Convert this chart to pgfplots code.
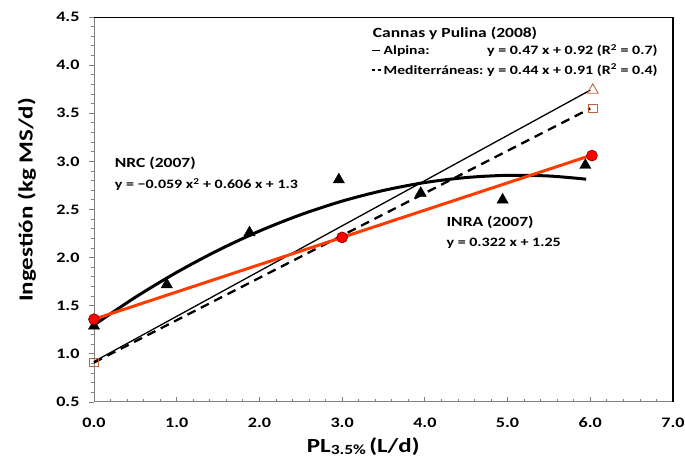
\documentclass[border=0pt]{standalone}
\usepackage{fontspec}
\setmainfont{Carlito}[FakeStretch=1.25]
\usepackage{pgfplots}
\pgfplotsset{compat=1.18}
\definecolor{inra}{RGB}{255,60,0}
\definecolor{openm}{RGB}{192,100,60}
\definecolor{axgray}{RGB}{128,128,128}
\begin{document}
\begin{tikzpicture}
\begin{axis}[
  scale only axis, width=579bp, height=385bp,
  xmin=0, xmax=7, ymin=0.5, ymax=4.5,
  xtick={0,1,2,3,4,5,6,7}, ytick={0.5,1,1.5,2,2.5,3,3.5,4,4.5},
  minor x tick num=4, minor y tick num=4,
  xtick pos=left, ytick pos=left,
  tick align=inside,
  major tick length=5bp, minor tick length=3bp,
  every major y tick/.append style={xshift=-5bp},
  every minor y tick/.append style={xshift=-3bp},
  tick style={color=axgray, line width=0.8bp},
  axis line style={draw=none},
  ticklabel style={font=\bfseries\fontsize{14.5bp}{16bp}\selectfont},
  xticklabel style={yshift=-12bp},
  yticklabel style={xshift=-11bp},
  /pgf/number format/fixed, /pgf/number format/fixed zerofill,
  /pgf/number format/precision=1, /pgf/number format/assume math mode=true,
  clip=false,
]
\coordinate (sw) at (rel axis cs:0,0);
\coordinate (ne) at (rel axis cs:1,1);
\coordinate (lm) at (rel axis cs:0,0.525);
\coordinate (bm) at (rel axis cs:0.465,0);
% frame
\draw[axgray, line width=1bp] (rel axis cs:0,0) -- (rel axis cs:0,1);
\draw[axgray, line width=1bp] (rel axis cs:0,0) -- (rel axis cs:1,0);
\draw[black, line width=0.8bp] (rel axis cs:0,1) -- (rel axis cs:1,1);
\draw[black, line width=1.5bp] (rel axis cs:1,0) -- (rel axis cs:1,1);

% Alpina (Cannas y Pulina)
\addplot[black, line width=1.3bp, mark=none] coordinates {(0,0.92) (6,3.74)};
% Mediterraneas
\addplot[black, line width=2.3bp, dash pattern=on 9bp off 6bp, mark=none] coordinates {(0,0.91) (6,3.55)};
% NRC curve
\addplot[black, line width=3bp, smooth, mark=none] coordinates {
 (0,1.300) (0.5,1.588) (1,1.847) (1.5,2.076) (2,2.276) (2.5,2.446) (3,2.587)
 (3.5,2.698) (4,2.780) (4.5,2.832) (5,2.855) (5.5,2.848) (5.95,2.815)};
% INRA line
\addplot[inra, line width=3bp, mark=none] coordinates {(0,1.36) (3,2.21) (6,3.06)};
% NRC data triangles
\addplot[only marks, mark=triangle*, mark size=6.5bp, black] coordinates {
 (0,1.29) (0.88,1.72) (1.88,2.26) (2.96,2.81) (3.95,2.67) (4.94,2.60) (5.94,2.96)};
% INRA circles
\addplot[only marks, mark=*, mark size=5.5bp, draw=red!50!black, fill=red, line width=0.6bp] coordinates {
 (0,1.36) (3,2.21) (6.02,3.06)};
% open markers
\addplot[only marks, mark=square, mark size=4.3bp, openm, mark options={fill=white, line width=0.9bp}] coordinates {(0,0.91) (6.03,3.55)};
\addplot[only marks, mark=triangle, mark size=6.3bp, openm, mark options={fill=white, line width=0.9bp}] coordinates {(6.03,3.74)};

% annotations
\node[anchor=west, inner sep=0pt, font=\bfseries\fontsize{14bp}{16bp}\selectfont] at (axis cs:3.37,4.33) {Cannas y Pulina (2008)};
\node[anchor=west, inner sep=0pt, font=\bfseries\fontsize{14bp}{16bp}\selectfont] at (axis cs:0.25,2.98) {NRC (2007)};
\node[anchor=west, inner sep=0pt, font=\bfseries\fontsize{14bp}{16bp}\selectfont] at (axis cs:4.26,2.37) {INRA (2007)};
\begin{scope}[font=\bfseries\fontsize{12.5bp}{15bp}\selectfont]
\node[anchor=west, inner sep=0pt] at (axis cs:3.50,4.15) {Alpina:};
\node[anchor=west, inner sep=0pt] at (axis cs:3.50,3.95) {Mediterráneas:};
\end{scope}
\begin{scope}[font=\bfseries\fontsize{12.8bp}{15bp}\selectfont]
\node[anchor=west, inner sep=0pt] at (axis cs:4.75,4.15) {y = 0.47 x + 0.92 (R\textsuperscript{2} = 0.7)};
\node[anchor=west, inner sep=0pt] at (axis cs:4.75,3.95) {y = 0.44 x + 0.91 (R\textsuperscript{2} = 0.4)};
\node[anchor=west, inner sep=0pt] at (axis cs:0.25,2.76) {y = −0.059 x\textsuperscript{2} + 0.606 x + 1.3};
\node[anchor=west, inner sep=0pt] at (axis cs:4.26,2.15) {y = 0.322 x + 1.25};
\end{scope}
\draw[black, line width=1.3bp] (axis cs:3.36,4.15) -- (axis cs:3.46,4.15);
\draw[black, line width=1.3bp] (axis cs:3.36,3.95) -- (axis cs:3.40,3.95);
\draw[black, line width=1.3bp] (axis cs:3.43,3.95) -- (axis cs:3.47,3.95);
\end{axis}
\node[rotate=90, font=\bfseries\fontsize{20bp}{22bp}\selectfont] at ([xshift=-67bp]lm) {Ingestión (kg MS/d)};
\node[font=\bfseries\fontsize{20bp}{22bp}\selectfont] at ([yshift=-45bp]bm) {PL\raisebox{-2bp}{\fontsize{14bp}{16bp}\selectfont 3.5\%}\,(L/d)};
\pgfresetboundingbox
\path[use as bounding box] ([shift={(-94bp,-61bp)}]sw) rectangle ([shift={(12bp,17bp)}]ne);
\end{tikzpicture}
\end{document}
